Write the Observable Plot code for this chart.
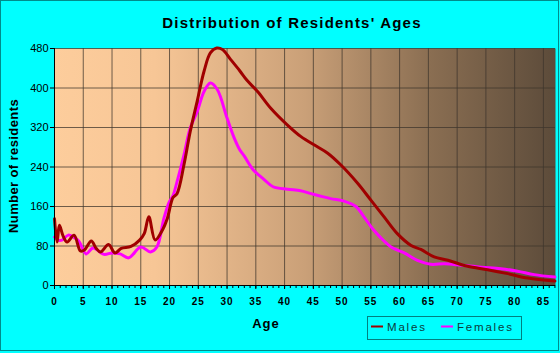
<!DOCTYPE html>
<html>
<head>
<meta charset="utf-8">
<script src="https://cdn.jsdelivr.net/npm/d3@7"></script>
<script src="https://cdn.jsdelivr.net/npm/@observablehq/plot@0.6"></script>
<style>
  html, body { margin: 0; padding: 0; background: #00ffff; }
  svg { display: block; }
</style>
</head>
<body>
<div id="chart"></div>
<script>
// ---- data ----
const maleAge = [0, 0.45, 0.85, 1.5, 2.2, 3.4, 4.5, 5.2, 6.4, 7.2, 8, 9.4, 10.5, 11.6, 13.3, 14.8, 15.6, 16.4, 17.5, 18.8, 19.6, 20.6, 21.3, 22.5, 23.6, 24.8, 26, 27.1, 28.2, 29.2, 30.6, 32.2, 33.5, 35.3, 37.6, 40.5, 42.8, 45.7, 47.5, 49.8, 52.7, 55, 57.3, 59.6, 62, 63.7, 66, 68.4, 71.8, 75.3, 78.8, 82.3, 87];
const maleVal = [135, 88, 122, 100, 88, 102, 70, 72, 90, 76, 68, 83, 66, 75, 79, 92, 105, 139, 92, 113, 135, 178, 186, 244, 312, 373, 434, 471, 481, 478, 458, 435, 415, 393, 359, 325, 302, 281, 268, 244, 207, 173, 139, 105, 81, 73, 58, 51, 39, 32, 24, 15, 9];

const femaleAge = [0, 0.6, 1.3, 2.4, 3.3, 4.2, 5.5, 6.7, 8.6, 10, 11.4, 12.9, 15, 16.7, 17.8, 19, 19.9, 20.6, 21.3, 22.5, 23.6, 24.8, 26, 27.1, 28.3, 30, 31.2, 32.2, 33, 34.5, 36.4, 38, 40.5, 42.8, 44.6, 48, 50.3, 52.4, 53.8, 55.3, 56.7, 58.5, 60.8, 63.1, 65.4, 67.8, 70.7, 74.2, 77.6, 80.5, 83.4, 87];
const femaleVal = [98, 92, 92, 102, 98, 90, 64, 76, 63, 66, 64, 56, 78, 68, 78, 135, 168, 182, 210, 264, 319, 352, 393, 410, 397, 339, 300, 275, 262, 235, 215, 200, 195, 192, 186, 176, 171, 160, 139, 115, 97, 78, 66, 51, 43, 44, 41, 37, 34, 29, 22, 17];

const xTicks = [0, 5, 10, 15, 20, 25, 30, 35, 40, 45, 50, 55, 60, 65, 70, 75, 80, 85];
const yTicks = [0, 80, 160, 240, 320, 400, 480];
const seriesNames = ["Males", "Females"];
const seriesColors = ["#a00000", "#ff00ff"];

const males = maleAge.map((a, i) => ({age: a, v: maleVal[i]}));
const females = femaleAge.map((a, i) => ({age: a, v: femaleVal[i]}));

const W = 560, H = 353;
const chart = Plot.plot({
  width: W, height: H,
  marginLeft: 54, marginRight: 5, marginTop: 48, marginBottom: 68,
  x: {domain: [0, 87.1]},
  y: {domain: [0, 480]},
  style: {background: "#00ffff", fontFamily: "'Liberation Sans', Arial, sans-serif", fontSize: "10px", color: "#000", overflow: "visible"},
  marks: [
    Plot.frame({fill: "url(#bgGrad)", stroke: null}),
    Plot.gridX(xTicks, {stroke: "#3f352c", strokeOpacity: 0.75, strokeWidth: 1}),
    Plot.gridY(yTicks, {stroke: "#3f352c", strokeOpacity: 0.75, strokeWidth: 1}),
    Plot.line(females, {x: "age", y: "v", stroke: seriesColors[1], strokeWidth: 3, curve: "catmull-rom"}),
    Plot.line(males, {x: "age", y: "v", stroke: seriesColors[0], strokeWidth: 3, curve: "catmull-rom"}),
    Plot.axisX(d3.range(0, 88, 1), {tickSize: 3, text: null, label: null, stroke: "#000"}),
    Plot.axisX(xTicks, {tickSize: 4, tickPadding: 8, label: null, fontWeight: "bold", fontSize: 10, stroke: "#000"}),
    Plot.axisY(yTicks, {tickSize: 4, tickPadding: 2, label: null, fontSize: 11, fontFamily: "'Liberation Sans Narrow', 'Liberation Sans', Arial, sans-serif"}),
    Plot.ruleY([0], {stroke: "#000"}),
    Plot.ruleX([0], {stroke: "#000"})
  ]
});

const svg = d3.select(chart);
const defs = svg.insert("defs", ":first-child");
const grad = defs.append("linearGradient").attr("id", "bgGrad")
  .attr("x1", 0).attr("x2", 1).attr("y1", 0).attr("y2", 0);
[[0, "rgb(253,205,156)"], [0.2, "rgb(247,198,150)"], [0.5, "rgb(202,160,120)"], [0.75, "rgb(138,110,82)"], [1, "rgb(92,75,58)"]]
  .forEach(([o, c]) => grad.append("stop").attr("offset", o).attr("stop-color", c));

// x tick labels letter spacing
svg.selectAll("g[aria-label='x-axis tick label'] text").attr("letter-spacing", "1px");

// outer border
svg.append("rect").attr("x", 0.5).attr("y", 0.5).attr("width", 558).attr("height", 350)
  .attr("fill", "none").attr("stroke", "#008b8b");

// title
svg.append("text").attr("x", 292).attr("y", 28).attr("text-anchor", "middle")
  .attr("font-family", "'Liberation Sans', Arial, sans-serif").attr("font-weight", "bold")
  .attr("font-size", 15).attr("letter-spacing", "1.2px").attr("fill", "#000")
  .text("Distribution of Residents' Ages");

// y label
svg.append("text").attr("transform", "translate(18,166) rotate(-90)").attr("text-anchor", "middle")
  .attr("font-family", "'Liberation Sans', Arial, sans-serif").attr("font-weight", "bold")
  .attr("font-size", 13).attr("letter-spacing", "0.4px").attr("fill", "#000")
  .text("Number of residents");

// x label
svg.append("text").attr("x", 266).attr("y", 328).attr("text-anchor", "middle")
  .attr("font-family", "'Liberation Sans', Arial, sans-serif").attr("font-weight", "bold")
  .attr("font-size", 13).attr("letter-spacing", "1px").attr("fill", "#000")
  .text("Age");

// legend
const lg = svg.append("g").attr("text-anchor", "start");
lg.append("rect").attr("x", 367.5).attr("y", 316.5).attr("width", 154).attr("height", 23)
  .attr("fill", "none").attr("stroke", "#008080");
const legendX = [[371, 387], [441, 457]];
seriesNames.forEach((name, i) => {
  lg.append("line").attr("x1", legendX[i][0]).attr("x2", legendX[i][0] + 12)
    .attr("y1", 326.5).attr("y2", 326.5).attr("stroke", seriesColors[i]).attr("stroke-width", 2);
  lg.append("text").attr("x", legendX[i][1]).attr("y", 331).attr("text-anchor", "start")
    .attr("font-family", "'Liberation Sans', Arial, sans-serif").attr("font-size", 11.5)
    .attr("letter-spacing", "1.8px").attr("fill", "#0b3b3b").text(name);
});

document.getElementById("chart").appendChild(chart);
</script>
</body>
</html>
